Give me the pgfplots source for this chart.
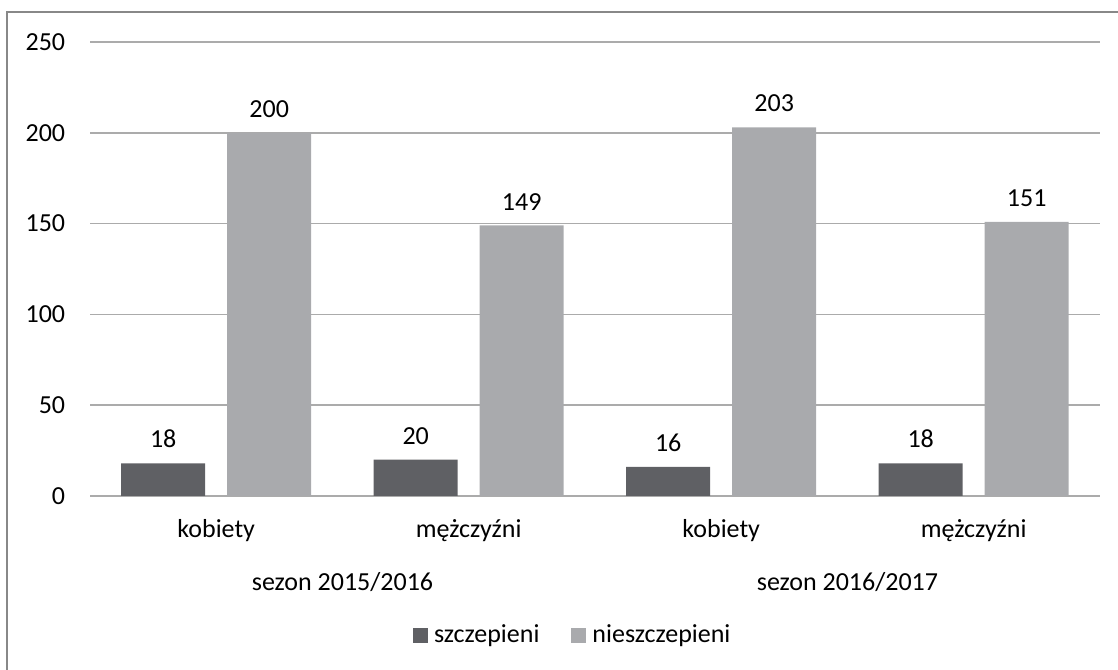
\documentclass[border=0pt]{standalone}
\usepackage{pgfplots}
\pgfplotsset{compat=1.18}
\usepackage{fontspec}
\setmainfont{Carlito}
\definecolor{darkbar}{HTML}{5F6064}
\definecolor{lightbar}{HTML}{A9AAAD}
\definecolor{gridc}{HTML}{ABABAB}
\definecolor{framec}{HTML}{888888}
\newcommand{\chartfont}{\fontsize{26bp}{31bp}\selectfont}
\begin{document}
\chartfont
\begin{tikzpicture}
\useasboundingbox (0,0) rectangle (1118bp,670bp);
\draw[framec, line width=1.5bp] (7bp,-5bp) -- (7bp,658bp) -- (1125bp,658bp);
\begin{axis}[
  at={(90bp,174bp)}, anchor=south west,
  width=1010bp, height=454bp, scale only axis,
  xmin=-0.5, xmax=3.5, ymin=0, ymax=250,
  xtick={0,1,2,3},
  xticklabels={kobiety, mężczyźni, kobiety, mężczyźni},
  ytick={0,50,100,150,200,250},
  axis line style={draw=none},
  major tick length=0pt,
  ymajorgrids, grid style={gridc, line width=1.5bp},
  ybar, bar width=84bp,
  /pgf/number format/assume math mode=true,
  tick label style={font=\chartfont},
  yticklabel style={xshift=-16bp},
  xticklabel style={yshift=-15bp},
  nodes near coords,
  every node near coord/.append style={font=\chartfont, inner sep=0bp, yshift=15bp, text=black},
  legend columns=2,
  legend style={at={(0.478,-0.308)}, anchor=center, draw=none, font=\chartfont,
    /tikz/every even column/.append style={column sep=30bp}},
  legend image code/.code={\fill[#1] (0bp,-7.5bp) rectangle (15bp,7.5bp);},
  clip=false,
]
\addplot[fill=darkbar, draw=none, bar shift=-53bp] coordinates {(0,18) (1,20) (2,16) (3,18)};
\addplot[fill=lightbar, draw=none, bar shift=53bp] coordinates {(0,200) (1,149) (2,203) (3,151)};
\legend{\hspace{4bp}szczepieni, \hspace{4bp}nieszczepieni}
\node[font=\chartfont] at (axis cs:0.5,0) [yshift=-86bp] {sezon 2015/2016};
\node[font=\chartfont] at (axis cs:2.5,0) [yshift=-86bp] {sezon 2016/2017};
\end{axis}
\end{tikzpicture}
\end{document}
